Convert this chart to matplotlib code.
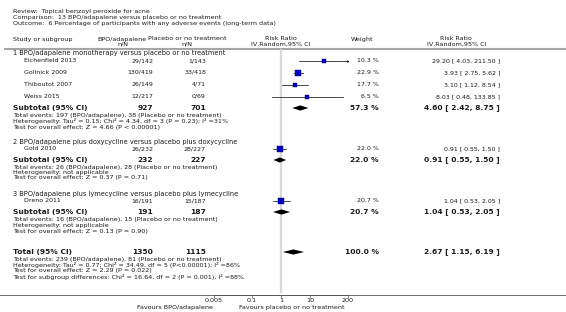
import matplotlib as mpl
mpl.use('Agg')
import matplotlib.pyplot as plt
import numpy as np

# ---- data ----
review = "Review:  Topical benzoyl peroxide for acne"
comparison = "Comparison:  13 BPO/adapalene versus placebo or no treatment"
outcome = "Outcome:  6 Percentage of participants with any adverse events (long-term data)"

groups = ["1 BPO/adapalene monotherapy versus placebo or no treatment",
          "2 BPO/adapalene plus doxycycline versus placebo plus doxycycline",
          "3 BPO/adapalene plus lymecycline versus placebo plus lymecycline"]

studies = ["Eichenfield 2013", "Gollnick 2009", "Thiboutot 2007", "Weiss 2015",
           "Gold 2010", "Dreno 2011"]
study_group = [0, 0, 0, 0, 1, 2]
bpo_nN = ["29/142", "130/419", "26/149", "12/217", "26/232", "16/191"]
plc_nN = ["1/143", "33/418", "4/71", "0/69", "28/227", "15/187"]
rr = [29.20, 3.93, 3.10, 8.03, 0.91, 1.04]
rr_lo = [4.03, 2.75, 1.12, 0.48, 0.55, 0.53]
rr_hi = [211.50, 5.62, 8.54, 133.85, 1.50, 2.05]
weight = [10.3, 22.9, 17.7, 6.5, 22.0, 20.7]

sub_bpo_N = [927, 232, 191]
sub_plc_N = [701, 227, 187]
sub_rr = [4.60, 0.91, 1.04]
sub_lo = [2.42, 0.55, 0.53]
sub_hi = [8.75, 1.50, 2.05]
sub_weight = [57.3, 22.0, 20.7]
sub_notes = [
    ["Total events: 197 (BPO/adapalene), 38 (Placebo or no treatment)",
     "Heterogeneity: Tau\u00b2 = 0.15; Chi\u00b2 = 4.34, df = 3 (P = 0.23); I\u00b2 =31%",
     "Test for overall effect: Z = 4.66 (P < 0.00001)"],
    ["Total events: 26 (BPO/adapalene), 28 (Placebo or no treatment)",
     "Heterogeneity: not applicable",
     "Test for overall effect: Z = 0.37 (P = 0.71)"],
    ["Total events: 16 (BPO/adapalene), 15 (Placebo or no treatment)",
     "Heterogeneity: not applicable",
     "Test for overall effect: Z = 0.13 (P = 0.90)"],
]

tot_bpo_N, tot_plc_N = 1350, 1115
tot_rr, tot_lo, tot_hi, tot_weight = 2.67, 1.15, 6.19, 100.0
tot_notes = ["Total events: 239 (BPO/adapalene), 81 (Placebo or no treatment)",
             "Heterogeneity: Tau\u00b2 = 0.77; Chi\u00b2 = 34.49, df = 5 (P<0.00001); I\u00b2 =86%",
             "Test for overall effect: Z = 2.29 (P = 0.022)",
             "Test for subgroup differences: Chi\u00b2 = 16.64, df = 2 (P = 0.001), I\u00b2 =88%"]

xticks = [0.005, 0.1, 1, 10, 200]
xticklabels = ["0.005", "0.1", "1", "10", "200"]
fav_left = "Favours BPO/adapalene"
fav_right = "Favours placebo or no treatment"

# ---- layout (pixel coords) ----
W, H = 566, 312
TXT = '#1a1a1a'
FS_T = 4.6    # title block
FS = 4.55     # headers / footnotes
FS_G = 4.8    # group headings
FS_S = 4.5    # per-study rows
FS_B = 5.4    # bold subtotal rows

fig = plt.figure(figsize=(W / 100, H / 100), dpi=100)
ax = fig.add_axes([0, 0, 1, 1])
ax.set_xlim(0, W)
ax.set_ylim(H, 0)
ax.axis('off')

# forest axis: log scale, same y pixel coords
x0, x1 = 214, 348
fx = fig.add_axes([x0 / W, 0, (x1 - x0) / W, 1])
fx.set_xscale('log')
fx.set_xlim(0.005, 200)
fx.set_ylim(H, 0)
fx.patch.set_alpha(0)
for s in ['top', 'left', 'right']:
    fx.spines[s].set_visible(False)
fx.spines['bottom'].set_position(('data', 295))
fx.spines['bottom'].set_color('#555555')
fx.spines['bottom'].set_linewidth(0.6)
fx.set_yticks([])
fx.set_xticks(xticks)
fx.set_xticklabels(xticklabels)
fx.minorticks_off()
fx.tick_params(axis='x', direction='out', length=2, width=0.5, pad=0.5,
               labelsize=FS, colors='#555555', labelcolor=TXT)

def t(x, y, s, ha='left', fs=FS, bold=False):
    ax.text(x, y, s, ha=ha, va='center', fontsize=fs, color=TXT,
            fontweight='bold' if bold else 'normal')

# title block
t(13, 12, review, fs=FS_T)
t(13, 17.5, comparison, fs=FS_T)
t(13, 23, outcome, fs=FS_T)

# column headers
t(13, 39, "Study or subgroup")
t(122, 39, "BPO/adapalene", ha='center')
t(123, 44.5, "n/N", ha='center')
t(187, 39, "Placebo or no treatment", ha='center')
t(187, 44.5, "n/N", ha='center')
t(281, 39, "Risk Ratio", ha='center')
t(281, 44.5, "IV,Random,95% CI", ha='center')
t(362, 39, "Weight", ha='center')
t(456, 39, "Risk Ratio", ha='center')
t(457, 44.5, "IV,Random,95% CI", ha='center')
ax.plot([4, W], [48.5, 48.5], color='#a6a6a6', lw=1.5, solid_capstyle='butt')

# null line and bottom axis line
fx.plot([1, 1], [50, 292], color='#d9d9d9', lw=1.6, zorder=0)
ax.plot([0, W], [295, 295], color='#555555', lw=0.6)

def diamond(y, r, lo, hi):
    fx.fill([lo, r, hi, r], [y, y - 2.6, y, y + 2.6], color='black', lw=0)

# row positions
group_y = [53, 142, 194]
study_y = [61, 72.5, 84.5, 96.5, 149, 201]
sub_y = [108, 160, 212]
note_y = [[116, 121.5, 127], [167, 172.5, 178], [220, 225.5, 231]]
tot_y = 252
tot_note_y = [259.5, 265, 270.5, 276.5]

for g, name in enumerate(groups):
    t(13, group_y[g], name, fs=FS_G)

for i, name in enumerate(studies):
    y = study_y[i]
    t(24, y, name, fs=FS_S)
    t(153, y, bpo_nN[i], ha='right', fs=FS_S)
    t(206, y, plc_nN[i], ha='right', fs=FS_S)
    t(379, y, f"{weight[i]:.1f} %", ha='right', fs=FS_S)
    t(500, y, f"{rr[i]:.2f} [ {rr_lo[i]:.2f}, {rr_hi[i]:.2f} ]", ha='right', fs=FS_S)
    hi = min(rr_hi[i], 200)
    fx.plot([rr_lo[i], hi], [y, y], color='black', lw=0.5, zorder=2)
    if rr_hi[i] > 200:
        fx.plot([200], [y], marker='>', ms=1.8, color='black', mew=0, zorder=2)
    # square side in px grows with weight
    side = (1.5 + np.sqrt(weight[i]) * 0.8) * 0.72
    fx.plot([rr[i]], [y], marker='s', ms=side, mfc='#0000cc', mec='#000066',
            mew=0.3, zorder=3)

for g in range(3):
    y = sub_y[g]
    t(13, y, "Subtotal (95% CI)", fs=FS_B, bold=True)
    t(153, y, str(sub_bpo_N[g]), ha='right', fs=FS_B, bold=True)
    t(206, y, str(sub_plc_N[g]), ha='right', fs=FS_B, bold=True)
    t(379, y, f"{sub_weight[g]:.1f} %", ha='right', fs=FS_B, bold=True)
    t(500, y, f"{sub_rr[g]:.2f} [ {sub_lo[g]:.2f}, {sub_hi[g]:.2f} ]",
      ha='right', fs=FS_B, bold=True)
    diamond(y, sub_rr[g], sub_lo[g], sub_hi[g])
    for ny, line in zip(note_y[g], sub_notes[g]):
        t(13, ny, line)

t(13, tot_y, "Total (95% CI)", fs=FS_B, bold=True)
t(153, tot_y, str(tot_bpo_N), ha='right', fs=FS_B, bold=True)
t(206, tot_y, str(tot_plc_N), ha='right', fs=FS_B, bold=True)
t(379, tot_y, f"{tot_weight:.1f} %", ha='right', fs=FS_B, bold=True)
t(500, tot_y, f"{tot_rr:.2f} [ {tot_lo:.2f}, {tot_hi:.2f} ]", ha='right',
  fs=FS_B, bold=True)
diamond(tot_y, tot_rr, tot_lo, tot_hi)
for ny, line in zip(tot_note_y, tot_notes):
    t(13, ny, line)

t(213, 307, fav_left, ha='right')
t(239, 307, fav_right)

plt.savefig("out.png", dpi=100)
